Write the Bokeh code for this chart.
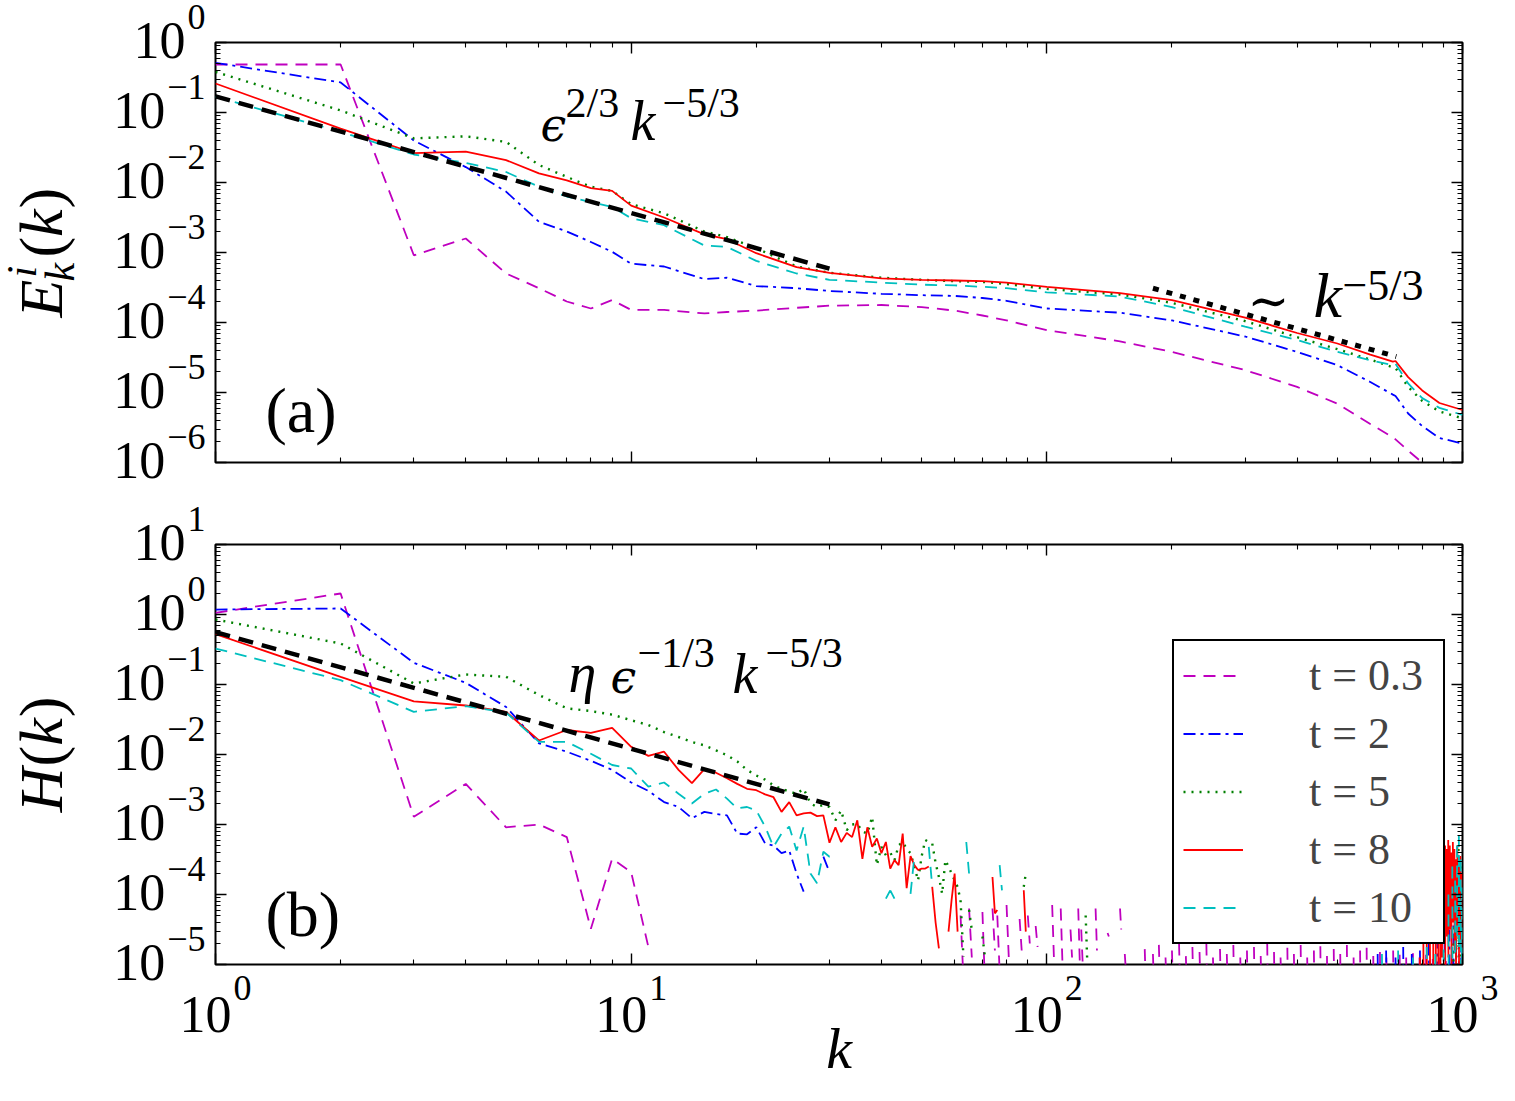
import math
from bokeh.plotting import figure
from bokeh.models import (LogAxis, Label, Legend, LegendItem, Range1d, LogScale,
                          FixedTicker, ColumnDataSource, CustomJSTickFormatter)
from bokeh.layouts import column
from bokeh.embed import file_html
from bokeh.resources import INLINE

NAN = float("nan")

# ---------------------------------------------------------------------------
# Panel (a): energy spectra E_k^i(k), values given as log10
# ---------------------------------------------------------------------------
k_E = [1, 2, 3, 4, 5, 6, 7, 8, 9, 10, 12, 15, 17, 20, 25, 30, 40, 50, 60, 70,
       80, 100, 150, 200, 300, 400, 500, 600, 680, 690, 740, 800, 880, 1000]

E_t03 = [-0.314, -0.314, -3.04, -2.80, -3.30, -3.51, -3.70, -3.80, -3.68, -3.82,
         -3.82, -3.87, -3.85, -3.83, -3.79, -3.76, -3.75, -3.78, -3.83, -3.90,
         -3.97, -4.11, -4.27, -4.42, -4.68, -4.92, -5.16, -5.45, -5.64, -5.67,
         -5.83, -6.00, -6.28, -6.60]
E_t2 = [-0.29, -0.571, -1.40, -1.78, -2.13, -2.56, -2.70, -2.85, -2.99, -3.16,
        -3.20, -3.38, -3.36, -3.48, -3.51, -3.55, -3.59, -3.61, -3.62, -3.65,
        -3.69, -3.80, -3.86, -3.97, -4.20, -4.42, -4.61, -4.85, -5.03, -5.05,
        -5.30, -5.48, -5.65, -5.73]
E_t5 = [-0.42, -0.97, -1.37, -1.34, -1.42, -1.75, -1.92, -2.06, -2.12, -2.31,
        -2.44, -2.70, -2.78, -2.94, -3.20, -3.29, -3.36, -3.39, -3.41, -3.42,
        -3.45, -3.52, -3.60, -3.72, -3.98, -4.21, -4.38, -4.53, -4.64, -4.65,
        -4.92, -5.12, -5.27, -5.37]
E_t8 = [-0.586, -1.23, -1.58, -1.56, -1.68, -1.87, -1.97, -2.08, -2.12, -2.33,
        -2.50, -2.74, -2.81, -3.01, -3.21, -3.29, -3.37, -3.39, -3.40, -3.41,
        -3.43, -3.49, -3.58, -3.68, -3.93, -4.15, -4.30, -4.46, -4.56, -4.55,
        -4.78, -4.97, -5.15, -5.25]
E_t10 = [-0.776, -1.276, -1.60, -1.72, -1.85, -2.06, -2.20, -2.28, -2.35, -2.51,
         -2.61, -2.90, -2.92, -3.12, -3.30, -3.39, -3.43, -3.46, -3.47, -3.49,
         -3.51, -3.57, -3.63, -3.78, -4.06, -4.25, -4.42, -4.54, -4.61, -4.59,
         -4.87, -5.08, -5.22, -5.32]

# ---------------------------------------------------------------------------
# Panel (b): helicity spectra H(k), log10 values on k = 1, 2, ...
# plus isolated stretches (k, log10 H(k), log10 H(k+1)) where H > 0
# ---------------------------------------------------------------------------
H_t03 = [0.024, 0.30, -2.89, -2.42, -3.04, -3.00, -3.18, -4.49, -3.49, -3.68, -4.75]
H_t03_frag = [
    (62, -4.30, -5.20), (65, -4.20, -4.90), (70, -4.25, -5.30), (74, -4.20, -4.80),
    (76, -4.30, -5.10), (80, -4.15, -4.90), (86, -4.35, -4.80), (90, -4.30, -4.70),
    (94, -4.45, -4.75), (103, -4.15, -4.90), (108, -4.20, -4.95), (114, -4.50, -4.90),
    (119, -4.20, -4.95), (121, -4.50, -5.00), (131, -4.20, -4.80), (140, -4.55, -4.60),
    (150, -4.20, -4.50), (154, -4.85, -5.10),
    (172, -4.78, -5.3), (180, -4.85, -5.3), (186, -4.72, -5.2), (193, -4.90, -5.3),
    (200, -4.80, -5.3), (208, -4.70, -5.2), (216, -4.88, -5.3), (224, -4.75, -5.3),
    (233, -4.82, -5.25), (242, -4.70, -5.3), (251, -4.90, -5.3), (261, -4.78, -5.3),
    (271, -4.85, -5.2), (281, -4.72, -5.3), (292, -4.90, -5.3), (303, -4.80, -5.3),
    (315, -4.75, -5.25), (327, -4.88, -5.3), (339, -4.70, -5.3), (352, -4.82, -5.3),
    (365, -4.90, -5.2), (379, -4.76, -5.3), (393, -4.85, -5.3), (408, -4.72, -5.3),
    (423, -4.90, -5.25), (439, -4.80, -5.3), (455, -4.74, -5.3), (472, -4.88, -5.3),
    (490, -4.78, -5.2), (508, -4.85, -5.3), (527, -4.72, -5.3), (547, -4.90, -5.3),
    (567, -4.80, -5.25), (588, -4.76, -5.3), (610, -4.88, -5.3), (633, -4.82, -5.3),
    (656, -4.90, -5.3), (681, -4.80, -5.2), (706, -4.86, -5.3), (732, -4.90, -5.3),
    (760, -4.84, -5.3), (788, -4.90, -5.3), (817, -4.86, -5.3), (848, -4.92, -5.3),
    (879, -4.90, -5.3), (912, -4.95, -5.3), (946, -4.92, -5.3), (980, -4.95, -5.3)]

H_t2 = [0.071, 0.086, -0.69, -0.976, -1.32, -1.84, -1.96, -2.09, -2.22, -2.40,
        -2.52, -2.68, -2.75, -2.91, -2.82, -2.85, -2.87, -3.13, -3.14, -3.04,
        -3.27, -3.30, -3.41, -3.37, -3.70, -3.96]
H_t2_frag = [
    (29, -3.46, -3.68),
    (625, -4.85, -5.3), (655, -4.80, -5.3), (690, -4.90, -5.3), (720, -4.75, -5.3),
    (755, -4.85, -5.3), (790, -4.80, -5.3), (830, -4.70, -5.3), (870, -4.60, -5.3),
    (905, -4.30, -5.2), (930, -4.50, -5.3), (950, -4.20, -5.0), (965, -4.40, -5.3),
    (980, -4.25, -5.2), (992, -4.30, -5.3)]

H_t5 = [-0.071, -0.414, -0.986, -0.857, -0.89, -1.15, -1.34, -1.38, -1.43, -1.51,
        -1.58, -1.68, -1.75, -1.82, -1.87, -1.94, -2.01, -2.10, -2.22, -2.30,
        -2.36, -2.44, -2.49, -2.53, -2.56, -2.49, -2.70, -2.75, -2.72, -2.75,
        -2.94, -2.80, -3.08, -3.00, -2.99, -3.10, -3.13, -2.89, -3.58, -3.32,
        -3.44, -3.40, -3.51, -3.30, -3.25, -3.35, -3.41, -3.60, -3.80, -3.45,
        -3.22, -3.25, -3.27, -3.55, -3.75, -3.99, -3.51, -3.60, -3.70, -3.80,
        -3.89, -4.08, -4.89]
H_t5_frag = [
    (65, -4.22, -4.51), (70, -4.60, -4.90), (88, -3.89, -3.70), (124, -4.30, -4.90),
    (950, -3.90, -5.3), (965, -3.50, -5.0), (978, -3.35, -4.8), (990, -3.60, -5.3)]

H_t8 = [-0.28, -0.89, -1.24, -1.30, -1.39, -1.80, -1.65, -1.69, -1.62, -1.89,
        -2.02, -1.96, -2.22, -2.41, -2.21, -2.26, -2.34, -2.42, -2.49, -2.51,
        -2.57, -2.61, -2.82, -2.68, -2.87, -2.84, -2.83, -2.88, -2.87, -3.26,
        -3.04, -3.25, -3.12, -3.18, -2.94, -3.49, -3.04, -3.32, -3.20, -3.41,
        -3.25, -3.63, -3.51, -3.58, -3.13, -3.91, -3.45, -3.58, -3.65, -3.63,
        -3.63, -3.60]
H_t8_frag = [
    (53, -3.89, -4.40), (54, -4.40, -4.77), (58, -4.53, -4.08), (59, -4.08, -3.70),
    (60, -3.70, -4.53), (74, -3.75, -4.27), (75, -4.27, -4.22), (88, -3.94, -4.53),
    (790, -4.9, -5.3), (805, -4.6, -5.3), (820, -4.4, -5.2), (835, -4.7, -5.3),
    (850, -4.3, -5.3), (862, -4.0, -5.2), (874, -3.8, -5.3), (884, -3.6, -5.0),
    (892, -3.5, -4.9), (900, -3.4, -4.7), (908, -3.3, -5.1), (916, -3.35, -4.6),
    (924, -3.22, -4.9), (932, -3.3, -4.5), (940, -3.4, -5.0), (948, -3.25, -4.4),
    (956, -3.35, -4.8), (964, -3.5, -5.2), (972, -3.3, -4.6), (980, -3.6, -5.0),
    (988, -3.45, -4.7), (995, -3.7, -5.2)]

H_t10 = [-0.486, -0.938, -1.39, -1.31, -1.40, -1.82, -1.82, -1.99, -2.15, -2.20,
         -2.46, -2.40, -2.56, -2.70, -2.56, -2.50, -2.63, -2.77, -2.75, -2.80,
         -3.03, -3.32, -3.13, -3.03, -3.37, -3.03, -3.70, -3.84, -3.39, -3.46,
         -3.44]
H_t10_frag = [
    (41, -4.06, -3.94), (42, -3.94, -4.06), (47, -3.99, -3.46), (52, -3.32, -3.89),
    (64, -3.25, -3.70), (77, -3.58, -3.94),
    (640, -4.85, -5.3), (700, -4.80, -5.3), (760, -4.90, -5.3), (820, -4.75, -5.3),
    (860, -4.85, -5.3), (900, -4.50, -5.3), (925, -4.00, -5.2), (945, -3.60, -5.0),
    (960, -3.80, -4.9), (970, -3.30, -4.6), (980, -3.15, -4.8), (990, -3.50, -5.1),
    (996, -3.90, -5.3)]

# guide power laws  C k^(-5/3)
SLOPE = -5.0 / 3.0
guide_a_k, guide_a_C = [1, 30], 0.17        # eps^{2/3} k^{-5/3}
guide_a2_k, guide_a2_C = [180, 693], 1.77   # ~ k^{-5/3}
guide_b_k, guide_b_C = [1, 30], 0.56        # eta eps^{-1/3} k^{-5/3}

labels = ["t = 0.3", "t = 2", "t = 5", "t = 8", "t = 10"]
colors = ["#bf00bf", "#0000ff", "#008000", "#ff0000", "#00bfbf"]
dashes = ["12 8", "12 5 3 5", "2 6", "solid", "12 8"]
widths = [1.8, 1.8, 2.4, 1.8, 1.8]

SERIF = "Liberation Serif"
GREEK = "DejaVu Serif"

# page geometry (pixels)
W, H = 1515, 1101
LEFT, FW, FH = 215, 1247, 420
TOP_A, TOP_B = 42, 544            # frame tops of the two panels
PX_X = FW / 3.0                   # pixels per decade in k
PX_Y = FH / 6.0                   # pixels per decade in E and H
MID_TO_BASE = 0.34                # em distance from a text's middle down to its baseline


def lin(vals):
    return [NAN if v is None else 10.0 ** v for v in vals]


def series_with_gaps(main, frags):
    ks = list(range(1, len(main) + 1))
    vs = list(main)
    ks.append(len(main) + 1)
    vs.append(None)
    for k0, hi, lo in frags:
        ks += [k0, k0 + 1, k0 + 1]
        vs += [hi, lo, None]
    return ks, lin(vs)


def make_fig(ylo, yhi, border_bottom):
    p = figure(x_axis_type="log", y_axis_type="log",
               x_range=Range1d(1, 1000), y_range=Range1d(ylo, yhi),
               frame_width=FW, frame_height=FH,
               min_border_left=LEFT, min_border_right=W - LEFT - FW,
               min_border_top=42, min_border_bottom=border_bottom,
               toolbar_location=None, output_backend="svg",
               background_fill_color="white", border_fill_color="white")
    p.grid.visible = False
    p.outline_line_color = "black"
    p.outline_line_width = 2
    p.add_layout(LogAxis(), "above")
    p.add_layout(LogAxis(), "right")
    lo_e = round(math.log10(ylo))
    hi_e = round(math.log10(yhi))
    y_major = [10.0 ** n for n in range(lo_e, hi_e + 1)]
    y_minor = [m * 10.0 ** n for n in range(lo_e, hi_e) for m in range(2, 10)]
    x_major = [1, 10, 100, 1000]
    x_minor = [m * 10.0 ** n for n in range(0, 3) for m in range(2, 10)]
    for ax in p.xaxis:
        ax.ticker = FixedTicker(ticks=x_major, minor_ticks=x_minor)
    for ax in p.yaxis:
        ax.ticker = FixedTicker(ticks=y_major, minor_ticks=y_minor)
    for ax in p.axis:
        ax.axis_line_color = None
        ax.major_tick_in = 11
        ax.major_tick_out = 0
        ax.minor_tick_in = 5
        ax.minor_tick_out = 0
        ax.major_tick_line_width = 1.4
        ax.minor_tick_line_width = 1.1
        ax.major_tick_line_color = "black"
        ax.minor_tick_line_color = "black"
        ax.formatter = CustomJSTickFormatter(code="return ''")
        ax.major_label_text_font_size = "8px"
        ax.major_label_text_alpha = 0.0
        ax.major_label_standoff = 0
    return p


def txt(p, x, y, s, size, italic=False, xu="screen", yu="screen",
        align="left", angle=0.0, xo=0, yo=0, font=SERIF, yr="default"):
    """Place text so that its baseline passes through (x, y)."""
    shift = MID_TO_BASE * size
    if angle:
        xo -= shift          # rotated a quarter turn: "up" points left
    else:
        yo += shift
    p.add_layout(Label(x=x, y=y, x_units=xu, y_units=yu, text=s,
                       text_font=font, text_font_size=f"{size}px",
                       text_font_style="italic" if italic else "normal",
                       text_align=align, text_baseline="middle",
                       angle=angle, x_offset=xo, y_offset=yo,
                       y_range_name=yr, text_color="black"))


def exp_str(n):
    return str(n) if n >= 0 else "\u2212" + str(-n)


# ---------------------------------------------------------------------------
# (a) energy spectra
# ---------------------------------------------------------------------------
p1 = make_fig(1e-6, 1.0, 40)
for vals, c, d, w in zip([E_t03, E_t2, E_t5, E_t8, E_t10], colors, dashes, widths):
    src = ColumnDataSource(dict(k=k_E, e=lin(vals)))
    p1.line("k", "e", source=src, line_color=c, line_dash=d, line_width=w)

p1.line(guide_a_k, [guide_a_C * k ** SLOPE for k in guide_a_k],
        line_color="black", line_dash="15 9", line_width=4.5)
p1.line(guide_a2_k, [guide_a2_C * k ** SLOPE for k in guide_a2_k],
        line_color="black", line_dash="6 8", line_width=5)

# eps^{2/3} k^{-5/3}
txt(p1, 325, 322, "\u03f5", 46, italic=True, font=GREEK)
txt(p1, 350, 345, "2/3", 42)
txt(p1, 415, 322, "k", 56, italic=True)
txt(p1, 447, 345, "\u22125/3", 42)

# ~ k^{-5/3}
txt(p1, 1032, 145, "\u223c", 50, font=GREEK)
txt(p1, 1098, 145, "k", 64, italic=True)
txt(p1, 1127, 162, "\u22125/3", 44)

txt(p1, 50, 30, "(a)", 64)

# ---------------------------------------------------------------------------
# (b) helicity spectra
# ---------------------------------------------------------------------------
p2 = make_fig(1e-5, 10.0, H - TOP_B - FH)
rends = []
for (main, frags), c, d, w in zip([(H_t03, H_t03_frag), (H_t2, H_t2_frag),
                                   (H_t5, H_t5_frag), (H_t8, H_t8_frag),
                                   (H_t10, H_t10_frag)], colors, dashes, widths):
    ks, hs = series_with_gaps(main, frags)
    src = ColumnDataSource(dict(k=ks, h=hs))
    rends.append(p2.line("k", "h", source=src, line_color=c, line_dash=d, line_width=w))

p2.line(guide_b_k, [guide_b_C * k ** SLOPE for k in guide_b_k],
        line_color="black", line_dash="15 9", line_width=4.5)

# eta eps^{-1/3} k^{-5/3}
txt(p2, 353, 272, "\u03b7", 56, italic=True)
txt(p2, 395, 272, "\u03f5", 46, italic=True, font=GREEK)
txt(p2, 422, 297, "\u22121/3", 42)
txt(p2, 517, 271, "k", 56, italic=True)
txt(p2, 550, 297, "\u22125/3", 42)

txt(p2, 50, 28, "(b)", 64)

legend = Legend(items=[LegendItem(label=l, renderers=[r]) for l, r in zip(labels, rends)],
                location=(957, 20), orientation="vertical",
                label_text_font=SERIF, label_text_font_size="44px",
                glyph_width=60, glyph_height=51, label_height=51,
                label_standoff=66, label_width=125, spacing=7, padding=9,
                margin=0, border_line_color="black", border_line_width=2.5,
                border_line_alpha=1.0, background_fill_color="white",
                background_fill_alpha=1.0)
p2.add_layout(legend)

# ---------------------------------------------------------------------------
# transparent text layer over both panels: tick labels and axis titles
# ---------------------------------------------------------------------------
x_lo = 10 ** (-LEFT / PX_X)
x_hi = 10 ** ((W - LEFT) / PX_X)
e_top = 0 + TOP_A / PX_Y                       # log10 E at page top
e_bot = 0 - (H - TOP_A) / PX_Y                 # log10 E at page bottom
h_top = 1 + TOP_B / PX_Y
h_bot = 1 - (H - TOP_B) / PX_Y

ov = figure(width=W, height=H, x_axis_type="log",
            x_axis_location=None, y_axis_location=None,
            x_range=Range1d(x_lo, x_hi), y_range=Range1d(0, H),
            min_border=0, toolbar_location=None, output_backend="svg",
            background_fill_alpha=0.0, border_fill_alpha=0.0,
            outline_line_color=None, margin=(-H, 0, 0, 0))
ov.frame_align = False
ov.grid.visible = False
ov.extra_y_ranges = {"E": Range1d(10 ** e_bot, 10 ** e_top),
                     "H": Range1d(10 ** h_bot, 10 ** h_top)}
ov.extra_y_scales = {"E": LogScale(), "H": LogScale()}

for name, lo_e, hi_e in [("E", -6, 0), ("H", -5, 1)]:
    for n in range(lo_e, hi_e + 1):
        e = exp_str(n)
        w = 36 * sum(0.564 if c == "\u2212" else 0.5 for c in e)
        txt(ov, LEFT - 10, 10.0 ** n, e, 36, yu="data", yr=name, align="right", yo=13)
        txt(ov, LEFT - 12 - w, 10.0 ** n, "10", 52, yu="data", yr=name,
            align="right", yo=-16)

bottom_B = H - TOP_B - FH          # frame bottom of panel (b), from page bottom
for n in range(0, 4):
    txt(ov, 10.0 ** n, bottom_B - 68, "10", 52, xu="data", align="right", xo=16)
    txt(ov, 10.0 ** n, bottom_B - 36, str(n), 36, xu="data", align="left", xo=18)

txt(ov, LEFT + FW / 2, bottom_B - 104, "k", 58, italic=True, align="center")

# rotated axis titles
R = math.pi / 2
BX = LEFT - 153
ya = H - (TOP_A + FH)              # frame bottom of panel (a), from page bottom
txt(ov, BX, ya + 145, "E", 62, italic=True, angle=R)
txt(ov, BX - 26, ya + 185, "i", 42, italic=True, angle=R)
txt(ov, BX + 12, ya + 181, "k", 42, italic=True, angle=R)
txt(ov, BX, ya + 205, "(", 62, angle=R)
txt(ov, BX, ya + 225.6, "k", 62, italic=True, angle=R)
txt(ov, BX, ya + 254.1, ")", 62, angle=R)

txt(ov, BX, bottom_B + 152.3, "H", 62, italic=True, angle=R)
txt(ov, BX, bottom_B + 198.1, "(", 62, angle=R)
txt(ov, BX, bottom_B + 218.7, "k", 62, italic=True, angle=R)
txt(ov, BX, bottom_B + 247.2, ")", 62, angle=R)

page = column(p1, p2, ov, spacing=0)
open("out.html", "w").write(file_html(page, INLINE))
